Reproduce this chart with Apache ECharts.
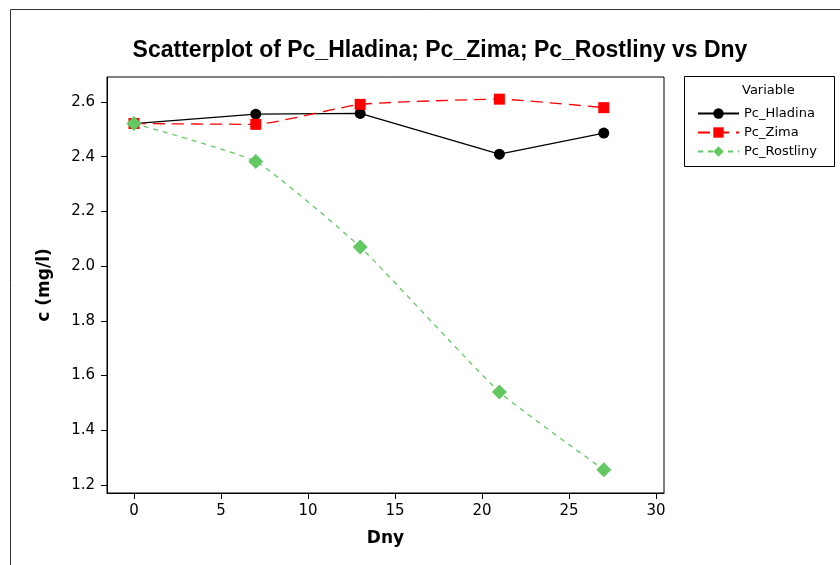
<!DOCTYPE html>
<html><head><meta charset="utf-8">
<script src="https://cdn.jsdelivr.net/npm/echarts@6/dist/echarts.min.js"></script>
<style>html,body{margin:0;padding:0;background:#fff}#c{width:840px;height:565px}</style>
</head><body><div id="c"></div>
<script>
const days = [0, 7, 13, 21, 27];
const hladina = [2.521, 2.555, 2.558, 2.409, 2.486];
const zima = [2.521, 2.518, 2.591, 2.610, 2.579];
const rostliny = [2.521, 2.382, 2.070, 1.540, 1.256];
const xTicks = [0, 5, 10, 15, 20, 25, 30];
const yTicks = [1.2, 1.4, 1.6, 1.8, 2.0, 2.2, 2.4, 2.6];
const seriesNames = ['Pc_Hladina', 'Pc_Zima', 'Pc_Rostliny'];

const pairs = a => days.map((d, i) => [d, a[i]]);
const font = 'Tahoma, "DejaVu Sans", sans-serif';
const chart = echarts.init(document.getElementById('c'), null, {renderer: 'canvas'});
chart.setOption({
  animation: false,
  backgroundColor: '#fff',
  title: {
    text: 'Scatterplot of Pc_Hladina; Pc_Zima; Pc_Rostliny vs Dny',
    left: 435, top: 34, textAlign: 'center',
    textStyle: {fontFamily: '"Liberation Sans", Arial, sans-serif', fontWeight: 'bold', fontSize: 23, color: '#000'}
  },
  grid: {left: 107, top: 77, right: 176, bottom: 72, show: true, borderColor: '#000', borderWidth: 1},
  xAxis: {
    type: 'value', min: -1.55, max: 30.46,
    name: 'Dny', nameLocation: 'middle', nameGap: 37,
    nameTextStyle: {fontFamily: font, fontWeight: 'bold', fontSize: 17, color: '#000'},
    axisLine: {show: true, onZero: false, lineStyle: {color: '#000'}},
    axisTick: {show: true, length: 6, lineStyle: {color: '#000'}, customValues: xTicks},
    axisLabel: {customValues: xTicks, fontFamily: font, fontSize: 15, color: '#000', margin: 11},
    splitLine: {show: false}
  },
  yAxis: {
    type: 'value', min: 1.171, max: 2.691,
    name: 'c (mg/l)', nameLocation: 'middle', nameGap: 54, nameRotate: 90,
    nameTextStyle: {fontFamily: font, fontWeight: 'bold', fontSize: 17, color: '#000'},
    axisLine: {show: true, onZero: false, lineStyle: {color: '#000'}},
    axisTick: {show: true, length: 6, lineStyle: {color: '#000'}, customValues: yTicks},
    axisLabel: {customValues: yTicks, formatter: v => v.toFixed(1), fontFamily: font, fontSize: 15, color: '#000', margin: 12},
    splitLine: {show: false}
  },
  legend: {
    orient: 'vertical', left: 692, top: 102, itemWidth: 41, itemHeight: 13, itemGap: 6,
    data: seriesNames,
    textStyle: {fontFamily: font, fontSize: 13, color: '#000'}
  },
  graphic: [
    {type: 'rect', shape: {x: 10.5, y: 9.5, width: 840, height: 570}, style: {fill: 'none', stroke: '#333', lineWidth: 1}, silent: true},
    {type: 'rect', shape: {x: 684.5, y: 76.5, width: 150, height: 90}, style: {fill: 'none', stroke: '#000', lineWidth: 1}, silent: true},
    {type: 'text', left: 742, top: 84, style: {text: 'Variable', fontFamily: font, fontSize: 13, fill: '#000'}}
  ],
  series: [
    {name: seriesNames[0], type: 'line', data: pairs(hladina), symbol: 'circle', symbolSize: 11,
     itemStyle: {color: '#000'}, lineStyle: {color: '#000', width: 1.3}},
    {name: seriesNames[1], type: 'line', data: pairs(zima), symbol: 'rect', symbolSize: 11, smooth: 0.15,
     itemStyle: {color: '#ff0000'}, lineStyle: {color: '#ff0000', width: 1.3, type: [12, 7]}},
    {name: seriesNames[2], type: 'line', data: pairs(rostliny), symbol: 'diamond', symbolSize: 15, smooth: 0.15,
     itemStyle: {color: '#62c962'}, lineStyle: {color: '#62c962', width: 1.3, type: [5, 5]}}
  ]
});
</script></body></html>
